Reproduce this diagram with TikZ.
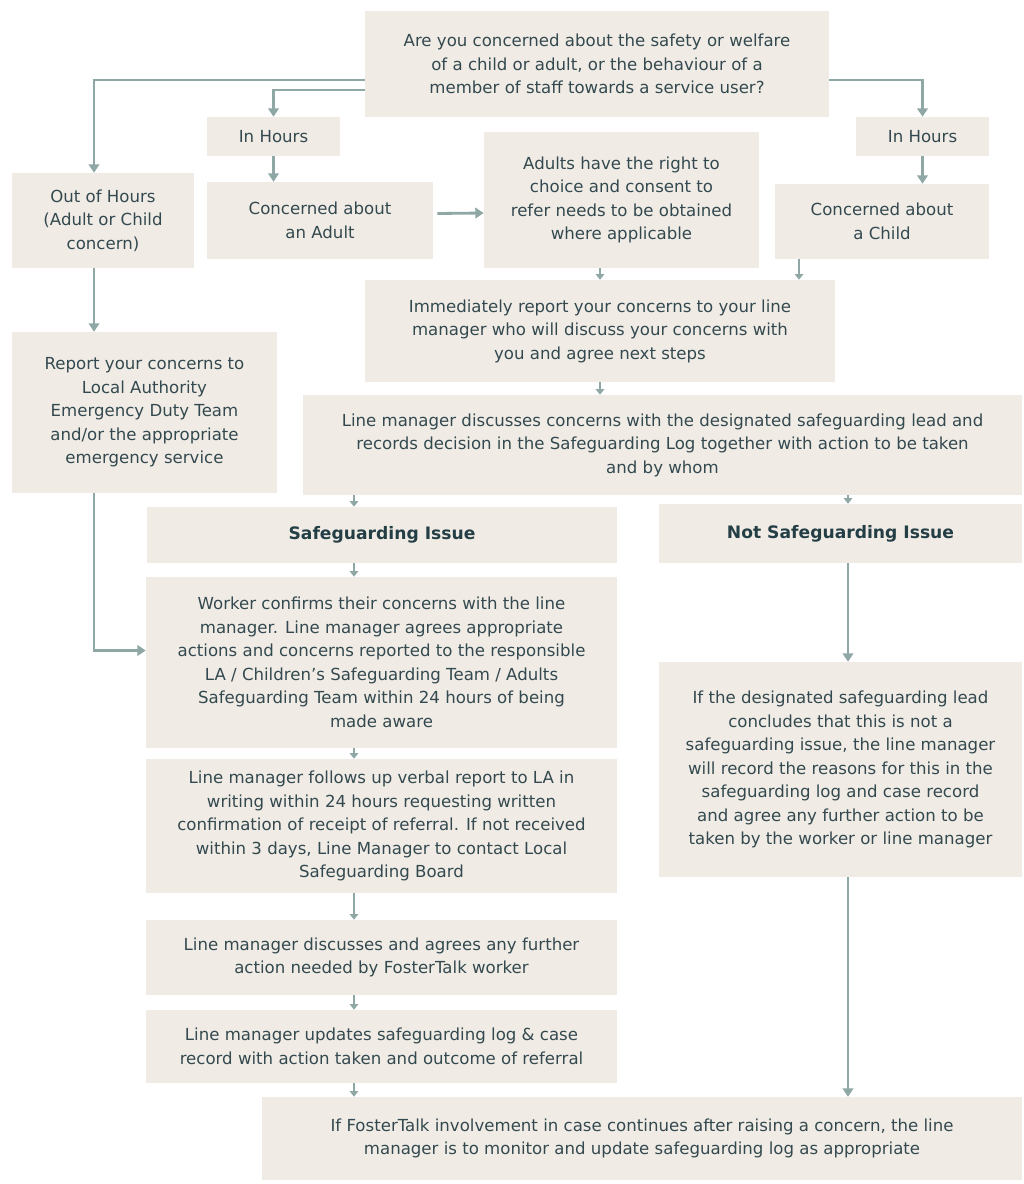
\documentclass[tikz,border=0pt]{standalone}
\usepackage{fontspec}
\setmainfont{DejaVu Sans}
\usetikzlibrary{arrows.meta, calc}
\definecolor{ftFill}{HTML}{F0ECE5}
\definecolor{ftLine}{HTML}{8FA8A6}
\definecolor{ftText}{HTML}{33494F}
\definecolor{ftDark}{HTML}{243E46}
\tikzset{
  card/.style 2 args = {fill=ftFill, text=ftText, align=center, inner sep=0pt,
                        minimum width=#1*0.025cm, minimum height=#2*0.025cm,
                        font=\fontsize{11.8}{16.7}\selectfont},
  hdr/.style         = {font=\fontsize{12.2}{16.7}\selectfont\bfseries, text=ftDark},
  link/.style        = {-{Triangle[length=6pt, width=7.5pt]}, line width=2pt, ftLine},
  nudge/.style       = {-{Triangle[length=4pt, width=6pt]}, line width=1.2pt, ftLine},
}

\begin{document}
\begin{tikzpicture}[x=0.025cm, y=-0.025cm]
\useasboundingbox (0,0) rectangle (1024,1184);

% ---- top row -------------------------------------------------------------
\node[card={464}{106}] (q) at (597,64)
  {Are you concerned about the safety or welfare\\of a child or adult, or the behaviour of a\\member of staff towards a service user?};
\node[card={133}{39}]  (inhA)  at (273.5,136.5) {In Hours};
\node[card={133}{39}]  (inhC)  at (922.5,136.5) {In Hours};
\node[card={182}{95}]  (outh)  at (103,220.5) {Out of Hours\\(Adult or Child\\concern)};
\node[card={226}{77}]  (adult) at (320,220.5) {Concerned about\\an Adult};
\node[card={275}{136}] (rights) at (621.5,200)
  {Adults have the right to\\choice and consent to\\refer needs to be obtained\\where applicable};
\node[card={214}{75}]  (child) at (882,221.5) {Concerned about\\a Child};

% ---- middle --------------------------------------------------------------
\node[card={470}{102}] (imm) at (600,331)
  {Immediately report your concerns to your line\\manager who will discuss your concerns with\\you and agree next steps};
\node[card={265}{161}] (report) at (144.5,412.5)
  {Report your concerns to\\Local Authority\\Emergency Duty Team\\and/or the appropriate\\emergency service};
\node[card={719}{100}] (lmd) at (662.5,445)
  {Line manager discusses concerns with the designated safeguarding lead and\\records decision in the Safeguarding Log together with action to be taken\\and by whom};
\node[card={470}{56}, hdr]  (sgi)   at (382,535)     {Safeguarding Issue};
\node[card={363}{59}, hdr]  (notsg) at (840.5,533.5) {Not Safeguarding Issue};

% ---- left column ---------------------------------------------------------
\node[card={471}{171}] (worker) at (381.5,662.5)
  {Worker confirms their concerns with the line\\manager. Line manager agrees appropriate\\actions and concerns reported to the responsible\\LA / Children’s Safeguarding Team / Adults\\Safeguarding Team within 24 hours of being\\made aware};
\node[card={471}{134}] (follow) at (381.5,826)
  {Line manager follows up verbal report to LA in\\writing within 24 hours requesting written\\confirmation of receipt of referral. If not received\\within 3 days, Line Manager to contact Local\\Safeguarding Board};
\node[card={471}{75}]  (disc) at (381.5,957.5)
  {Line manager discusses and agrees any further\\action needed by FosterTalk worker};
\node[card={471}{73}]  (upd) at (381.5,1046.5)
  {Line manager updates safeguarding log \& case\\record with action taken and outcome of referral};

% ---- right column and end ------------------------------------------------
\node[card={363}{215}] (nsdet) at (840.5,769.5)
  {If the designated safeguarding lead\\concludes that this is not a\\safeguarding issue, the line manager\\will record the reasons for this in the\\safeguarding log and case record\\and agree any further action to be\\taken by the worker or line manager};
\node[card={760}{83}]  (fin) at (642,1138.5)
  {If FosterTalk involvement in case continues after raising a concern, the line\\manager is to monitor and update safeguarding log as appropriate};

% ---- connectors ----------------------------------------------------------
\coordinate (lx) at (94,0);
\coordinate (ax) at (354,0);
\coordinate (bx) at (848,0);
\coordinate (cx) at (799,0);

\draw[link] ($(q.west)+(0,16)$) -| (lx |- outh.north);
\draw[link] ($(q.west)+(0,26)$) -| (inhA.north);
\draw[link] ($(q.east)+(0,16)$) -| (inhC.north);
\draw[link] (inhA.south) -- (inhA.south |- adult.north);
\draw[link] (inhC.south) -- (inhC.south |- child.north);
\draw[link] ($(adult.east)+(4,-7)$) -- ($(rights.west)+(0,13)$);
\draw[link] (lx |- outh.south) -- (lx |- report.north);
\draw[link] (lx |- report.south) |- ($(worker.west)+(0,-12)$);
\draw[link] (bx |- notsg.south) -- (bx |- nsdet.north);
\draw[link] (bx |- nsdet.south) -- (bx |- fin.north);

\draw[nudge] (imm.north |- rights.south) -- (imm.north);
\draw[nudge] (cx |- child.south) -- (cx |- imm.north);
\draw[nudge] (imm.south) -- (imm.south |- lmd.north);
\draw[nudge] (ax |- lmd.south) -- (ax |- sgi.north);
\draw[nudge] (bx |- lmd.south) -- (bx |- notsg.north);
\draw[nudge] (ax |- sgi.south) -- (ax |- worker.north);
\draw[nudge] (ax |- worker.south) -- (ax |- follow.north);
\draw[nudge] (ax |- follow.south) -- (ax |- disc.north);
\draw[nudge] (ax |- disc.south) -- (ax |- upd.north);
\draw[nudge] (ax |- upd.south) -- (ax |- fin.north);

\end{tikzpicture}
\end{document}
